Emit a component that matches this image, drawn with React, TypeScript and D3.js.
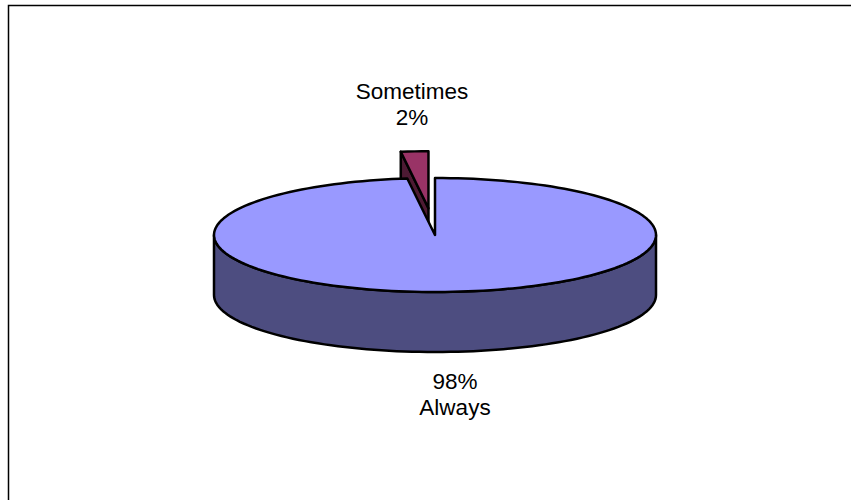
import React, { useEffect, useRef } from 'react'
import * as d3 from 'd3'

const categories = ['Always', 'Sometimes']
const values = [98, 2]
const percentLabels = ['98%', '2%']

const topColors = ['#9999FF', '#993366']
const sideColors = ['#4D4D80', '#4D1A33']

function App() {
  const ref = useRef<SVGSVGElement | null>(null)

  useEffect(() => {
    if (!ref.current) return
    const width = 851
    const height = 500
    const svg = d3.select(ref.current)
    svg.selectAll('*').remove()
    svg.attr('width', width).attr('height', height)

    // outer chart frame (runs off the right/bottom edge)
    svg.append('rect')
      .attr('x', 8.5).attr('y', 5.5)
      .attr('width', 900).attr('height', 600)
      .attr('fill', '#fff').attr('stroke', '#000').attr('stroke-width', 1.5)

    const cx = 435
    const cy = 235
    const rx = 221
    const ry = 57
    const depth = 60
    const explode = 0.47

    const arcs = d3.pie<number>().sort(null)(values)

    const offsets = arcs.map((a, i) => {
      const e = i === 1 ? explode : 0
      const m = (a.startAngle + a.endAngle) / 2
      return { dx: e * rx * Math.sin(m), dy: -e * ry * Math.cos(m) }
    })

    const pt = (t: number, r: number, h: number, i: number): [number, number] => [
      cx + offsets[i].dx + r * rx * Math.sin(t),
      cy + offsets[i].dy - r * ry * Math.cos(t) + h
    ]

    const arcPts = (a0: number, a1: number, h: number, i: number) => {
      const n = Math.max(2, Math.ceil(Math.abs(a1 - a0) / (Math.PI / 90)))
      return d3.range(n + 1).map(k => pt(a0 + (a1 - a0) * k / n, 1, h, i))
    }

    const line = d3.line().curve(d3.curveLinearClosed)
    const g = svg.append('g')
      .attr('stroke', '#000').attr('stroke-width', 2.5).attr('stroke-linejoin', 'round')

    // draw back-to-front: exploded slice first, then the main slice
    const drawSlice = (i: number) => {
      const a = arcs[i]
      const s = a.startAngle
      const e = a.endAngle
      // outer curved wall: only the front half is visible
      const f0 = Math.max(s, Math.PI / 2)
      const f1 = Math.min(e, Math.PI * 1.5)
      if (f1 > f0) {
        const top = arcPts(f0, f1, 0, i)
        const bot = arcPts(f1, f0, depth, i)
        g.append('path').attr('d', line([...top, ...bot])).attr('fill', sideColors[i])
      }
      // radial face at start angle, visible when it faces the viewer
      if (Math.cos(s) > 0 && Math.sin(s) < 0 && i === 1) {
        const c0 = pt(0, 0, 0, i)
        const r0 = pt(s, 1, 0, i)
        g.append('path')
          .attr('d', line([c0, r0, [r0[0], r0[1] + depth], [c0[0], c0[1] + depth]]))
          .attr('fill', sideColors[i])
      }
      // top face
      const c = pt(0, 0, 0, i)
      g.append('path').attr('d', line([c, ...arcPts(s, e, 0, i)])).attr('fill', topColors[i])
    }
    drawSlice(1)
    drawSlice(0)

    // data labels
    const labelLines = [
      { x: 455, ys: [389, 415], text: [percentLabels[0], categories[0]] },
      { x: 412, ys: [98.5, 125], text: [categories[1], percentLabels[1]] }
    ]
    labelLines.forEach(l => {
      l.text.forEach((t, k) => {
        svg.append('text')
          .attr('x', l.x).attr('y', l.ys[k])
          .attr('text-anchor', 'middle')
          .attr('font-family', 'Arial, "Liberation Sans", sans-serif')
          .attr('font-size', 22.5)
          .attr('fill', '#000')
          .text(t)
      })
    })
  }, [])

  return (
    <div style={{ position: 'absolute', left: 0, top: 0 }}>
      <svg ref={ref} style={{ display: 'block' }}></svg>
    </div>
  )
}

export default App
